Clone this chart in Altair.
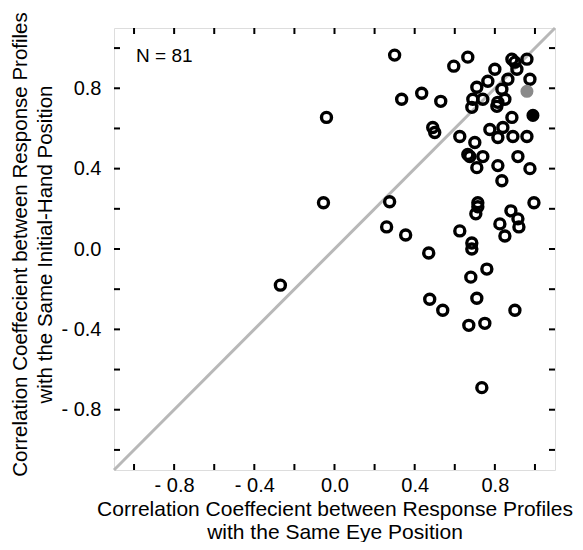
import altair as alt
import pandas as pd

# Correlation with same eye position (x) vs same initial-hand position (y)
eye_r = [
    -0.27, -0.055, -0.04, 0.30, 0.335, 0.435, 0.53, 0.595, 0.665, 0.49,
    0.50, 0.275, 0.26, 0.355, 0.47, 0.475, 0.54, 0.735, 0.625, 0.715,
    0.715, 0.705, 0.685, 0.685, 0.76, 0.68, 0.71, 0.67, 0.75, 0.90,
    0.825, 0.88, 0.915, 0.92, 0.85, 0.995, 0.625, 0.70, 0.665, 0.675,
    0.74, 0.71, 0.815, 0.835, 0.915, 0.975, 0.775, 0.84, 0.815, 0.89,
    0.96, 0.885, 0.685, 0.69, 0.81, 0.74, 0.815, 0.85, 0.71, 0.835,
    0.765, 0.865, 0.975, 0.80, 0.91, 0.885, 0.90, 0.96,
]
hand_r = [
    -0.18, 0.23, 0.655, 0.965, 0.745, 0.775, 0.735, 0.91, 0.955, 0.605,
    0.58, 0.235, 0.11, 0.07, -0.02, -0.25, -0.305, -0.69, 0.09, 0.23,
    0.21, 0.175, 0.03, 0.0, -0.10, -0.14, -0.245, -0.38, -0.37, -0.305,
    0.125, 0.19, 0.15, 0.11, 0.065, 0.23, 0.56, 0.53, 0.47, 0.46,
    0.46, 0.405, 0.415, 0.34, 0.46, 0.40, 0.595, 0.605, 0.555, 0.56,
    0.56, 0.655, 0.705, 0.745, 0.71, 0.745, 0.73, 0.745, 0.805, 0.795,
    0.835, 0.845, 0.845, 0.895, 0.895, 0.945, 0.93, 0.945,
]
gray_x = [0.96]
gray_y = [0.785]
black_x = [0.99]
black_y = [0.665]

tick_values = [-1.0, -0.8, -0.6, -0.4, -0.2, 0.0, 0.2, 0.4, 0.6, 0.8, 1.0]
label_values = [-0.8, -0.4, 0.0, 0.4, 0.8]
diag_values = [-1.1, 1.1]
axis_domain = [-1.1, 1.1]
n_label = "N = 81"

W, H = 441, 442
FONT = "Liberation Sans"
TL = 6  # inward tick length

pts = pd.DataFrame({"x": eye_r, "y": hand_r})
gray_df = pd.DataFrame({"x": gray_x, "y": gray_y})
black_df = pd.DataFrame({"x": black_x, "y": black_y})
ticks_df = pd.DataFrame({"v": tick_values})
diag_df = pd.DataFrame({"x": diag_values, "y": diag_values})
n_df = pd.DataFrame({"x": [-0.99], "y": [0.9625], "t": [n_label]})

scale = alt.Scale(domain=axis_domain, nice=False, zero=False)
label_expr = "datum.value < 0 ? '- ' + format(-datum.value, '.1f') : format(datum.value, '.1f')"

x_axis = alt.Axis(
    values=label_values, labelExpr=label_expr, ticks=False, tickSize=0, domain=False,
    grid=False, labelFontSize=20, labelFont=FONT, labelColor="black", labelPadding=5,
    title=["Correlation Coeffecient between Response Profiles", "with the Same Eye Position"],
    titleFont=FONT, titleFontSize=21, titleFontWeight="normal", titleColor="black",
    titleLineHeight=23, titleBaseline="middle", titleY=39, titleX=W / 2,
)
y_axis = alt.Axis(
    values=label_values, labelExpr=label_expr, ticks=False, tickSize=0, domain=False,
    grid=False, labelFontSize=20, labelFont=FONT, labelColor="black", labelPadding=13,
    title=["Correlation Coeffecient between Response Profiles", "with the Same Initial-Hand Position"],
    titleFont=FONT, titleFontSize=20.5, titleFontWeight="normal", titleColor="black",
    titleLineHeight=25, titleBaseline="middle", titleX=-94, titleY=216,
)

X = lambda f: alt.X(f, type="quantitative", scale=scale, axis=x_axis)
Y = lambda f: alt.Y(f, type="quantitative", scale=scale, axis=y_axis)

diag = alt.Chart(diag_df).mark_line(color="#b8b8b8", strokeWidth=3).encode(x=X("x"), y=Y("y"))

open_pts = alt.Chart(pts).mark_point(
    shape="circle", filled=False, size=100, strokeWidth=3.4, color="black", opacity=1
).encode(x=X("x"), y=Y("y"))

gray_pt = alt.Chart(gray_df).mark_point(
    shape="circle", filled=True, size=170, color="#8a8a8a", opacity=1
).encode(x=X("x"), y=Y("y"))

black_pt = alt.Chart(black_df).mark_point(
    shape="circle", filled=True, size=170, color="black", opacity=1
).encode(x=X("x"), y=Y("y"))

tick_mark = dict(color="black", strokeWidth=2)
t_bottom = alt.Chart(ticks_df).mark_rule(**tick_mark).encode(
    x=X("v"), y=alt.value(H), y2=alt.value(H - TL))
t_top = alt.Chart(ticks_df).mark_rule(**tick_mark).encode(
    x=X("v"), y=alt.value(0), y2=alt.value(TL))
t_left = alt.Chart(ticks_df).mark_rule(**tick_mark).encode(
    y=Y("v"), x=alt.value(0), x2=alt.value(TL))
t_right = alt.Chart(ticks_df).mark_rule(**tick_mark).encode(
    y=Y("v"), x=alt.value(W), x2=alt.value(W - TL))

n_text = alt.Chart(n_df).mark_text(
    align="left", baseline="middle", fontSize=19, font=FONT, color="black"
).encode(x=X("x"), y=Y("y"), text="t:N")

chart = alt.layer(
    diag, t_bottom, t_top, t_left, t_right, open_pts, gray_pt, black_pt, n_text
).properties(
    width=W, height=H,
    autosize=alt.AutoSizeParams(type="none"),
    padding={"left": 106, "top": 20, "right": 20, "bottom": 72},
).configure_view(
    stroke="black", strokeWidth=3.5
).configure(background="white")

chart.save("out.html", embed_options={"renderer": "svg", "actions": False})
